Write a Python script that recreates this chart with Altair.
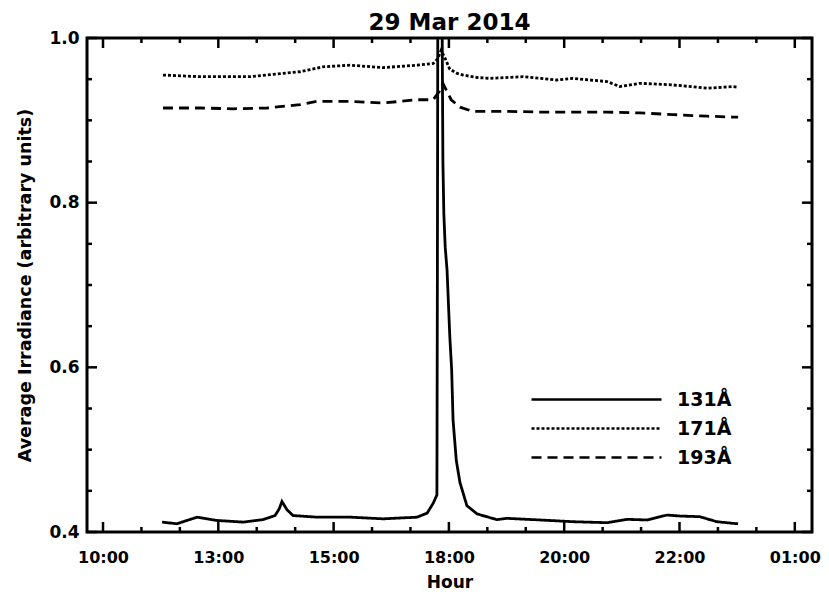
import altair as alt
import pandas as pd

title_text = "29 Mar 2014"
x_title = "Hour"
y_title = "Average Irradiance (arbitrary units)"

# axis ticks (x in hours on the plot's evenly spaced time axis)
x_major = [10, 12.5, 15, 17.5, 20, 22.5, 25]
x_labels = ["10:00", "13:00", "15:00", "18:00", "20:00", "22:00", "01:00"]
x_minor = [10.8333, 11.6667, 13.3333, 14.1667, 15.8333, 16.6667, 18.3333, 19.1667,
           20.8333, 21.6667, 23.3333, 24.1667]
x_domain = [9.653, 25.373]
y_major = [0.4, 0.6, 0.8, 1.0]
y_minor = [0.45, 0.5, 0.55, 0.65, 0.7, 0.75, 0.85, 0.9, 0.95]
y_domain = [0.4, 1.0]

series_names = ["131Å", "171Å", "193Å"]

t131 = [11.28, 11.60, 12.04, 12.47, 13.04, 13.47, 13.73, 13.82, 13.88, 13.99, 14.12, 14.64,
        15.36, 16.07, 16.81, 17.03, 17.16, 17.24, 17.25, 17.26, 17.30, 17.35, 17.37, 17.39,
        17.42, 17.46, 17.52, 17.56, 17.59, 17.66, 17.74, 17.89, 18.11, 18.54, 18.76, 19.48,
        20.19, 20.93, 21.36, 21.80, 22.23, 22.51, 22.94, 23.31, 23.66, 23.77]
v131 = [0.412, 0.410, 0.418, 0.414, 0.412, 0.415, 0.420, 0.428, 0.437, 0.427, 0.420, 0.418,
        0.418, 0.416, 0.418, 0.423, 0.435, 0.445, 0.700, 1.050, 1.080, 1.050, 0.850, 0.787,
        0.746, 0.718, 0.637, 0.597, 0.536, 0.487, 0.460, 0.432, 0.422, 0.415, 0.4166, 0.4146,
        0.4125, 0.4113, 0.4154, 0.4146, 0.4206, 0.4194, 0.4186, 0.4125, 0.4105, 0.410]

t171 = [11.30, 12.10, 13.19, 13.90, 14.27, 14.77, 15.36, 16.07, 16.81, 17.16, 17.26, 17.33,
        17.42, 17.52, 17.68, 17.81, 18.11, 18.39, 19.11, 19.84, 20.19, 20.93, 21.21, 21.64,
        22.36, 23.10, 23.66, 23.77]
v171 = [0.955, 0.953, 0.953, 0.957, 0.959, 0.965, 0.967, 0.964, 0.967, 0.969, 0.975, 0.985,
        0.975, 0.962, 0.957, 0.955, 0.952, 0.951, 0.953, 0.949, 0.951, 0.947, 0.941, 0.945,
        0.943, 0.939, 0.941, 0.940]

t193 = [11.30, 12.10, 12.82, 13.56, 14.27, 14.64, 15.36, 16.07, 16.81, 17.16, 17.29, 17.37,
        17.46, 17.55, 17.74, 17.96, 18.02, 18.76, 19.48, 20.19, 20.93, 21.64, 22.36, 23.10,
        23.66, 23.77]
v193 = [0.915, 0.915, 0.914, 0.915, 0.919, 0.923, 0.923, 0.921, 0.925, 0.925, 0.935, 0.945,
        0.935, 0.925, 0.916, 0.912, 0.911, 0.911, 0.910, 0.910, 0.910, 0.909, 0.907, 0.905,
        0.904, 0.904]

rows = []
for name, ts, vs in zip(series_names, [t131, t171, t193], [v131, v171, v193]):
    for t, v in zip(ts, vs):
        rows.append({"band": name, "hour": t, "value": v})
df = pd.DataFrame(rows)

FONT = "DejaVu Sans"
W, H = 725, 494
xscale = alt.Scale(domain=x_domain, nice=False, zero=False)
yscale = alt.Scale(domain=y_domain, nice=False, zero=False)

label_expr = ""
for v, lab in zip(x_major, x_labels):
    label_expr += f"datum.value == {v} ? '{lab}' : "
label_expr += "''"

x_axis = alt.Axis(values=x_major, labelExpr=label_expr, ticks=False, domain=False,
                  grid=False, labelFlush=False, labelOverlap=False, labelFontSize=16,
                  labelPadding=17, titlePadding=9, titleFontSize=17)
y_axis = alt.Axis(values=y_major, format=".1f", ticks=False, domain=False,
                  grid=False, labelFlush=False, labelOverlap=False, labelFontSize=17,
                  labelPadding=8, titlePadding=14, titleFontSize=17.5)

lines = alt.Chart(df).mark_line(color="black", strokeWidth=2.8, clip=True).encode(
    x=alt.X("hour:Q", scale=xscale, title=x_title, axis=x_axis),
    y=alt.Y("value:Q", scale=yscale, title=y_title, axis=y_axis),
    strokeDash=alt.StrokeDash(
        "band:N",
        scale=alt.Scale(domain=series_names, range=[[1, 0], [3, 2], [10, 6]]),
        legend=alt.Legend(title=None, orient="none", legendX=500, legendY=352,
                          symbolType="M-10,0H10", symbolSize=169, symbolStrokeWidth=2.5,
                          symbolStrokeColor="black", labelFont=FONT, labelFontWeight="bold",
                          labelFontSize=19, labelColor="black", labelOffset=71,
                          rowPadding=9, padding=0)),
)

tick_layers = []
for vals, L in [(y_major, 10), (y_minor, 5)]:
    d = pd.DataFrame({"v": vals})
    tick_layers.append(alt.Chart(d).mark_rule(color="black", strokeWidth=2.5).encode(
        y=alt.Y("v:Q", scale=yscale, title=y_title, axis=y_axis), x=alt.value(0), x2=alt.value(L)))
    tick_layers.append(alt.Chart(d).mark_rule(color="black", strokeWidth=2.5).encode(
        y=alt.Y("v:Q", scale=yscale, title=y_title, axis=y_axis), x=alt.value(W), x2=alt.value(W - L)))
for vals, L in [(x_major, 10), (x_minor, 5)]:
    d = pd.DataFrame({"v": vals})
    tick_layers.append(alt.Chart(d).mark_rule(color="black", strokeWidth=2.5).encode(
        x=alt.X("v:Q", scale=xscale, title=x_title, axis=x_axis), y=alt.value(H), y2=alt.value(H - L)))
    tick_layers.append(alt.Chart(d).mark_rule(color="black", strokeWidth=2.5).encode(
        x=alt.X("v:Q", scale=xscale, title=x_title, axis=x_axis), y=alt.value(0), y2=alt.value(L)))

chart = alt.layer(lines, *tick_layers).properties(
    width=W, height=H,
    title=alt.Title(title_text, font=FONT, fontSize=23, fontWeight="bold", color="black",
                    offset=0, dy=6),
    autosize=alt.AutoSizeParams(type="none"),
    padding={"left": 79, "top": 30, "right": 9, "bottom": 60},
).configure_view(stroke="black", strokeWidth=3).configure_axis(
    labelFont=FONT, labelFontWeight="bold", labelColor="black",
    titleFont=FONT, titleFontWeight="bold", titleColor="black",
)

chart.save("out.html", embed_options={"renderer": "svg", "actions": False})
